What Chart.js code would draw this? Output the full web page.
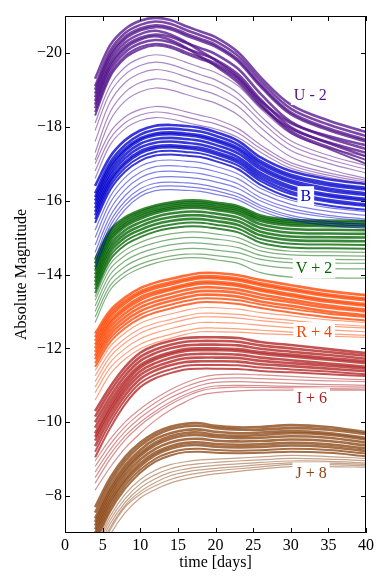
<!DOCTYPE html>
<html><head><meta charset="utf-8">
<script src="https://cdn.jsdelivr.net/npm/chart.js@4/dist/chart.umd.min.js"></script>
<style>html,body{margin:0;padding:0;background:#fff}#wrap{width:390px;height:586px}</style>
</head><body><div id="wrap"><canvas id="c" width="390" height="586"></canvas></div>
<script>
const days = [4,6,8,10,12,14,16,18,20,23,26,30,35,40];
const xTickValues = [0,5,10,15,20,25,30,35,40];
const yTickValues = [-20,-18,-16,-14,-12,-10,-8];
const bandNames = ['U - 2','B','V + 2','R + 4','I + 6','J + 8'];

const uCurves = [
[-19.30,-20.21,-20.65,-20.87,-20.95,-20.89,-20.73,-20.58,-20.43,-20.02,-19.34,-18.60,-18.17,-17.86],
[-19.10,-20.06,-20.54,-20.76,-20.85,-20.79,-20.63,-20.48,-20.32,-19.92,-19.24,-18.49,-18.06,-17.75],
[-19.00,-19.96,-20.44,-20.66,-20.75,-20.69,-20.53,-20.38,-20.22,-19.82,-19.14,-18.39,-17.96,-17.65],
[-18.90,-19.89,-20.38,-20.61,-20.70,-20.64,-20.48,-20.33,-20.17,-19.77,-19.09,-18.34,-17.91,-17.60],
[-18.80,-19.79,-20.28,-20.51,-20.60,-20.50,-20.30,-20.05,-19.80,-19.35,-18.70,-18.10,-17.75,-17.50],
[-18.70,-19.69,-20.18,-20.41,-20.50,-20.44,-20.28,-20.13,-19.97,-19.57,-18.89,-18.14,-17.71,-17.40],
[-18.60,-19.62,-20.12,-20.36,-20.45,-20.35,-20.15,-19.90,-19.65,-19.20,-18.55,-17.95,-17.58,-17.30],
[-18.50,-19.52,-20.02,-20.26,-20.35,-20.29,-20.13,-19.98,-19.82,-19.42,-18.74,-17.99,-17.56,-17.20],
[-18.40,-19.42,-19.92,-20.16,-20.25,-20.19,-20.03,-19.88,-19.72,-19.32,-18.64,-17.89,-17.46,-17.10],
[-18.30,-19.35,-19.86,-20.10,-20.20,-20.14,-19.98,-19.83,-19.67,-19.27,-18.59,-17.84,-17.41,-17.00],
[-18.10,-19.12,-19.62,-19.86,-19.95,-19.89,-19.75,-19.61,-19.47,-19.11,-18.49,-17.82,-17.43,-17.20],
[-17.90,-18.92,-19.42,-19.66,-19.75,-19.69,-19.55,-19.41,-19.27,-18.91,-18.29,-17.62,-17.23,-16.95],
[-17.60,-18.67,-19.20,-19.45,-19.55,-19.49,-19.36,-19.22,-19.09,-18.74,-18.15,-17.50,-17.12,-16.85],
[-17.30,-18.40,-18.94,-19.20,-19.30,-19.25,-19.12,-19.00,-18.87,-18.55,-17.98,-17.36,-17.01,-16.75],
[-17.10,-18.17,-18.70,-18.95,-19.05,-19.00,-18.88,-18.76,-18.64,-18.32,-17.78,-17.19,-16.85,-16.60],
[-17.00,-17.85,-18.27,-18.47,-18.55,-18.51,-18.41,-18.31,-18.21,-17.95,-17.51,-17.03,-16.75,-16.55],
[-16.80,-17.68,-18.11,-18.32,-18.40,-18.36,-18.27,-18.17,-18.08,-17.83,-17.41,-16.96,-16.69,-16.50],
[-16.60,-17.51,-17.95,-18.17,-18.25,-18.21,-18.12,-18.03,-17.94,-17.71,-17.31,-16.88,-16.63,-16.45]
];
const bCurves = [
[-16.40,-17.19,-17.64,-17.90,-18.03,-18.05,-18.02,-17.97,-17.86,-17.62,-17.17,-16.80,-16.58,-16.45],
[-16.20,-17.04,-17.51,-17.79,-17.92,-17.95,-17.92,-17.87,-17.76,-17.52,-17.07,-16.70,-16.48,-16.35],
[-16.10,-16.94,-17.41,-17.69,-17.82,-17.85,-17.82,-17.77,-17.66,-17.43,-17.00,-16.64,-16.42,-16.30],
[-16.00,-16.86,-17.35,-17.64,-17.77,-17.80,-17.77,-17.72,-17.61,-17.37,-16.92,-16.55,-16.33,-16.20],
[-15.90,-16.76,-17.25,-17.54,-17.67,-17.70,-17.67,-17.62,-17.51,-17.28,-16.85,-16.49,-16.27,-16.15],
[-15.80,-16.66,-17.15,-17.44,-17.57,-17.60,-17.57,-17.52,-17.41,-17.18,-16.75,-16.39,-16.17,-16.05],
[-15.70,-16.56,-17.05,-17.34,-17.47,-17.50,-17.47,-17.43,-17.32,-17.10,-16.68,-16.33,-16.12,-16.00],
[-15.60,-16.49,-16.99,-17.28,-17.42,-17.45,-17.42,-17.37,-17.26,-17.03,-16.60,-16.24,-16.02,-15.90],
[-15.50,-16.39,-16.89,-17.18,-17.32,-17.35,-17.32,-17.28,-17.17,-16.95,-16.53,-16.18,-15.97,-15.85],
[-15.40,-16.29,-16.79,-17.08,-17.22,-17.25,-17.22,-17.18,-17.07,-16.85,-16.43,-16.08,-15.87,-15.75],
[-15.20,-16.11,-16.63,-16.93,-17.07,-17.10,-17.07,-17.03,-16.93,-16.72,-16.33,-16.01,-15.81,-15.70],
[-15.00,-15.94,-16.46,-16.77,-16.92,-16.95,-16.92,-16.88,-16.79,-16.59,-16.21,-15.90,-15.71,-15.60],
[-14.80,-15.76,-16.30,-16.62,-16.77,-16.80,-16.77,-16.73,-16.64,-16.45,-16.08,-15.79,-15.60,-15.50],
[-14.60,-15.58,-16.14,-16.47,-16.62,-16.65,-16.63,-16.59,-16.51,-16.33,-15.99,-15.71,-15.55,-15.45],
[-14.45,-15.43,-15.99,-16.32,-16.47,-16.50,-16.48,-16.44,-16.36,-16.19,-15.87,-15.60,-15.44,-15.35],
[-14.30,-15.31,-15.88,-16.21,-16.37,-16.40,-16.38,-16.34,-16.27,-16.10,-15.80,-15.54,-15.39,-15.30],
[-14.15,-15.18,-15.76,-16.11,-16.27,-16.30,-16.28,-16.25,-16.17,-16.02,-15.72,-15.48,-15.33,-15.25]
];
const vCurves = [
[-14.40,-15.20,-15.55,-15.74,-15.87,-15.95,-16.00,-16.00,-15.95,-15.85,-15.60,-15.48,-15.46,-15.45],
[-14.30,-15.13,-15.49,-15.69,-15.82,-15.90,-15.95,-15.95,-15.90,-15.80,-15.55,-15.43,-15.41,-15.40],
[-14.20,-15.05,-15.42,-15.63,-15.76,-15.85,-15.90,-15.90,-15.85,-15.75,-15.50,-15.38,-15.36,-15.35],
[-14.10,-14.98,-15.36,-15.57,-15.71,-15.80,-15.85,-15.85,-15.80,-15.70,-15.45,-15.33,-15.31,-15.30],
[-14.00,-14.90,-15.30,-15.51,-15.66,-15.75,-15.80,-15.80,-15.75,-15.64,-15.36,-15.23,-15.21,-15.20],
[-13.90,-14.80,-15.20,-15.41,-15.56,-15.65,-15.70,-15.70,-15.65,-15.54,-15.26,-15.13,-15.11,-15.10],
[-13.80,-14.70,-15.10,-15.31,-15.46,-15.55,-15.60,-15.60,-15.55,-15.44,-15.16,-15.03,-15.01,-15.00],
[-13.70,-14.60,-15.00,-15.21,-15.36,-15.45,-15.50,-15.50,-15.45,-15.34,-15.06,-14.93,-14.91,-14.90],
[-13.60,-14.50,-14.90,-15.11,-15.26,-15.35,-15.40,-15.40,-15.35,-15.24,-14.96,-14.83,-14.81,-14.80],
[-13.50,-14.40,-14.80,-15.01,-15.16,-15.25,-15.30,-15.30,-15.25,-15.14,-14.86,-14.73,-14.71,-14.70],
[-13.40,-14.28,-14.66,-14.87,-15.01,-15.10,-15.15,-15.15,-15.10,-15.00,-14.75,-14.63,-14.61,-14.60],
[-13.30,-14.15,-14.52,-14.73,-14.86,-14.95,-15.00,-15.00,-14.96,-14.87,-14.64,-14.53,-14.51,-14.50],
[-13.15,-14.00,-14.37,-14.58,-14.71,-14.80,-14.85,-14.85,-14.81,-14.73,-14.52,-14.42,-14.41,-14.40],
[-13.00,-13.85,-14.22,-14.43,-14.56,-14.65,-14.70,-14.70,-14.66,-14.59,-14.41,-14.32,-14.31,-14.30],
[-12.85,-13.70,-14.07,-14.28,-14.41,-14.50,-14.55,-14.55,-14.51,-14.44,-14.26,-14.17,-14.16,-14.15],
[-12.70,-13.58,-13.96,-14.17,-14.31,-14.40,-14.45,-14.45,-14.40,-14.30,-14.05,-13.93,-13.91,-13.90]
];
const rCurves = [
[-12.40,-13.02,-13.38,-13.63,-13.78,-13.88,-13.97,-14.04,-14.04,-13.98,-13.85,-13.71,-13.55,-13.44],
[-12.30,-12.93,-13.29,-13.54,-13.69,-13.79,-13.88,-13.95,-13.95,-13.89,-13.76,-13.62,-13.46,-13.35],
[-12.20,-12.85,-13.22,-13.48,-13.63,-13.73,-13.83,-13.90,-13.90,-13.84,-13.71,-13.57,-13.41,-13.30],
[-12.10,-12.75,-13.12,-13.38,-13.53,-13.63,-13.73,-13.80,-13.80,-13.74,-13.61,-13.47,-13.31,-13.20],
[-12.00,-12.67,-13.05,-13.31,-13.47,-13.58,-13.68,-13.75,-13.75,-13.69,-13.56,-13.42,-13.26,-13.15],
[-11.90,-12.57,-12.95,-13.21,-13.37,-13.48,-13.58,-13.65,-13.65,-13.59,-13.46,-13.32,-13.16,-13.05],
[-11.80,-12.47,-12.85,-13.11,-13.27,-13.38,-13.48,-13.55,-13.55,-13.50,-13.37,-13.25,-13.10,-13.00],
[-11.70,-12.37,-12.75,-13.01,-13.17,-13.28,-13.38,-13.45,-13.45,-13.40,-13.27,-13.15,-13.00,-12.90],
[-11.60,-12.27,-12.65,-12.91,-13.07,-13.18,-13.28,-13.35,-13.35,-13.30,-13.19,-13.07,-12.94,-12.85],
[-11.50,-12.17,-12.55,-12.81,-12.97,-13.08,-13.18,-13.25,-13.25,-13.20,-13.09,-12.97,-12.84,-12.75],
[-11.40,-12.05,-12.42,-12.68,-12.83,-12.93,-13.03,-13.10,-13.10,-13.06,-12.97,-12.88,-12.77,-12.70],
[-11.25,-11.90,-12.27,-12.53,-12.68,-12.78,-12.88,-12.95,-12.95,-12.92,-12.84,-12.76,-12.66,-12.60],
[-11.10,-11.77,-12.15,-12.41,-12.57,-12.68,-12.78,-12.85,-12.85,-12.82,-12.75,-12.68,-12.60,-12.55],
[-10.95,-11.62,-12.00,-12.26,-12.42,-12.53,-12.63,-12.70,-12.70,-12.68,-12.62,-12.56,-12.50,-12.45],
[-10.80,-11.47,-11.85,-12.11,-12.27,-12.38,-12.48,-12.55,-12.55,-12.53,-12.49,-12.44,-12.39,-12.35],
[-10.60,-11.30,-11.71,-11.99,-12.15,-12.27,-12.38,-12.45,-12.45,-12.44,-12.40,-12.37,-12.33,-12.30]
];
const iCurves = [
[-10.30,-10.96,-11.50,-11.88,-12.08,-12.20,-12.28,-12.30,-12.30,-12.28,-12.17,-12.09,-11.98,-11.87],
[-10.15,-10.83,-11.38,-11.77,-11.97,-12.10,-12.18,-12.20,-12.20,-12.18,-12.08,-12.00,-11.90,-11.80],
[-10.00,-10.69,-11.26,-11.66,-11.87,-12.00,-12.08,-12.10,-12.10,-12.08,-11.99,-11.91,-11.82,-11.72],
[-9.85,-10.56,-11.14,-11.55,-11.76,-11.89,-11.98,-12.00,-12.00,-11.98,-11.90,-11.83,-11.74,-11.65],
[-9.70,-10.44,-11.05,-11.48,-11.70,-11.84,-11.93,-11.95,-11.95,-11.93,-11.85,-11.78,-11.69,-11.60],
[-9.60,-10.34,-10.95,-11.38,-11.60,-11.74,-11.83,-11.85,-11.85,-11.83,-11.75,-11.68,-11.59,-11.50],
[-9.50,-10.24,-10.85,-11.28,-11.50,-11.64,-11.73,-11.75,-11.75,-11.74,-11.66,-11.60,-11.53,-11.45],
[-9.35,-10.11,-10.73,-11.17,-11.40,-11.54,-11.63,-11.65,-11.65,-11.64,-11.57,-11.52,-11.45,-11.38],
[-9.20,-9.98,-10.61,-11.06,-11.29,-11.43,-11.53,-11.55,-11.55,-11.54,-11.48,-11.43,-11.37,-11.30],
[-9.05,-9.84,-10.49,-10.95,-11.19,-11.33,-11.43,-11.45,-11.45,-11.44,-11.39,-11.35,-11.30,-11.25],
[-8.95,-9.54,-10.01,-10.36,-10.64,-10.88,-11.07,-11.21,-11.28,-11.30,-11.28,-11.24,-11.19,-11.15],
[-8.80,-9.40,-9.88,-10.24,-10.53,-10.77,-10.96,-11.10,-11.18,-11.20,-11.18,-11.15,-11.12,-11.10],
[-8.65,-9.26,-9.75,-10.12,-10.41,-10.66,-10.85,-11.00,-11.08,-11.10,-11.08,-11.05,-11.02,-11.00],
[-8.50,-9.13,-9.63,-10.00,-10.30,-10.55,-10.75,-10.90,-10.98,-11.00,-10.99,-10.97,-10.96,-10.95],
[-8.35,-9.00,-9.52,-9.91,-10.22,-10.48,-10.69,-10.85,-10.92,-10.95,-10.94,-10.93,-10.91,-10.90],
[-8.16,-8.78,-9.30,-9.70,-10.05,-10.33,-10.55,-10.73,-10.80,-10.85,-10.87,-10.87,-10.87,-10.87]
];
const jCurves = [
[-7.70,-8.49,-9.06,-9.45,-9.72,-9.88,-9.96,-9.97,-9.90,-9.86,-9.87,-9.92,-9.87,-9.73],
[-7.55,-8.37,-8.96,-9.36,-9.64,-9.81,-9.89,-9.90,-9.84,-9.80,-9.80,-9.84,-9.80,-9.68],
[-7.40,-8.24,-8.84,-9.25,-9.54,-9.70,-9.79,-9.80,-9.74,-9.70,-9.72,-9.76,-9.71,-9.58],
[-7.30,-8.15,-8.75,-9.16,-9.45,-9.62,-9.71,-9.72,-9.66,-9.63,-9.65,-9.70,-9.66,-9.53],
[-7.20,-8.06,-8.67,-9.09,-9.38,-9.55,-9.64,-9.65,-9.60,-9.57,-9.58,-9.62,-9.58,-9.45],
[-7.10,-7.96,-8.57,-8.99,-9.28,-9.45,-9.54,-9.55,-9.50,-9.48,-9.49,-9.53,-9.49,-9.37],
[-7.00,-7.86,-8.47,-8.89,-9.18,-9.35,-9.44,-9.45,-9.41,-9.39,-9.40,-9.44,-9.40,-9.29],
[-6.90,-7.77,-8.39,-8.81,-9.11,-9.28,-9.37,-9.38,-9.34,-9.32,-9.33,-9.37,-9.33,-9.22],
[-6.80,-7.67,-8.29,-8.71,-9.01,-9.18,-9.27,-9.28,-9.25,-9.23,-9.24,-9.28,-9.25,-9.15],
[-6.70,-7.58,-8.20,-8.63,-8.93,-9.10,-9.19,-9.20,-9.17,-9.16,-9.17,-9.20,-9.17,-9.08],
[-6.60,-7.45,-8.05,-8.45,-8.70,-8.85,-8.93,-8.98,-9.00,-9.03,-9.06,-9.10,-9.07,-9.02],
[-6.50,-7.35,-7.93,-8.33,-8.58,-8.74,-8.83,-8.88,-8.91,-8.95,-8.98,-9.02,-9.00,-8.96],
[-6.40,-7.25,-7.83,-8.22,-8.47,-8.64,-8.73,-8.79,-8.83,-8.87,-8.91,-8.95,-8.94,-8.90],
[-6.30,-7.15,-7.75,-8.12,-8.37,-8.55,-8.65,-8.71,-8.75,-8.80,-8.85,-8.90,-8.89,-8.86],
[-6.20,-7.08,-7.70,-8.05,-8.28,-8.45,-8.56,-8.63,-8.68,-8.74,-8.79,-8.86,-8.85,-8.82],
[-6.10,-6.95,-7.55,-7.95,-8.18,-8.35,-8.46,-8.54,-8.60,-8.67,-8.73,-8.80,-8.80,-8.78]
];

const bandCurves = [uCurves, bCurves, vCurves, rCurves, iCurves, jCurves];
const bandRGB = ['85,20,140','0,0,205','0,100,0','255,69,0','178,34,34','139,69,19'];
const labelAnchors = [[32.6,-18.86],[32.0,-16.12],[33.1,-14.17],[33.1,-12.44],[32.8,-10.65],[32.7,-8.64]];
const denseCount = 10;

const datasets = [];
bandCurves.forEach((curves, b) => {
  curves.forEach((row, i) => {
    const dense = i < denseCount;
    datasets.push({
      data: row.map((m, k) => ({x: days[k], y: m})),
      borderColor: 'rgba(' + bandRGB[b] + (dense ? ',0.78)' : ',0.5)'),
      borderWidth: dense ? (i < 8 ? 2.6 : 2.0) : 1.2,
      pointRadius: 0,
      fill: false,
      tension: 0.35
    });
  });
});

const FONT = "'Liberation Serif', 'Times New Roman', serif";

const framePlugin = {
  id: 'frame',
  afterDatasetsDraw(chart) {
    const ctx = chart.ctx, a = chart.chartArea;
    const xs = chart.scales.x, ys = chart.scales.y;
    ctx.save();
    ctx.font = '16px ' + FONT;
    ctx.textAlign = 'center';
    ctx.textBaseline = 'middle';
    bandNames.forEach((name, b) => {
      const px = xs.getPixelForValue(labelAnchors[b][0]);
      const py = ys.getPixelForValue(labelAnchors[b][1]);
      const w = ctx.measureText(name).width;
      ctx.fillStyle = '#fff';
      ctx.fillRect(px - w / 2 - 3, py - 10, w + 6, 20);
      ctx.fillStyle = 'rgb(' + bandRGB[b] + ')';
      ctx.fillText(name, px, py + 1);
    });
    ctx.strokeStyle = '#000';
    ctx.lineWidth = 1;
    ctx.strokeRect(a.left + 0.5, a.top + 0.5, a.right - a.left - 1, a.bottom - a.top - 1);
    ctx.beginPath();
    xTickValues.forEach(v => {
      const p = Math.round(xs.getPixelForValue(v)) + 0.5;
      ctx.moveTo(p, a.bottom); ctx.lineTo(p, a.bottom - 5);
      ctx.moveTo(p, a.top); ctx.lineTo(p, a.top + 5);
    });
    yTickValues.forEach(v => {
      const p = Math.round(ys.getPixelForValue(v)) + 0.5;
      ctx.moveTo(a.left, p); ctx.lineTo(a.left + 5, p);
      ctx.moveTo(a.right, p); ctx.lineTo(a.right - 5, p);
    });
    ctx.stroke();
    ctx.restore();
  }
};

new Chart(document.getElementById('c'), {
  type: 'line',
  data: { datasets },
  options: {
    responsive: false,
    animation: false,
    events: [],
    layout: { padding: { top: 16, right: 24, left: 0, bottom: 0 } },
    plugins: { legend: { display: false }, tooltip: { enabled: false } },
    scales: {
      x: {
        type: 'linear', min: 0, max: 40,
        afterBuildTicks: s => { s.ticks = xTickValues.map(v => ({value: v})); },
        afterFit: s => { s.height = 53; },
        grid: { display: false, drawTicks: false },
        border: { display: false },
        ticks: { color: '#000', font: { family: FONT, size: 16 }, padding: 3, maxRotation: 0, autoSkip: false },
        title: { display: true, text: 'time [days]', color: '#000', font: { family: FONT, size: 16 }, padding: { top: 0, bottom: 14 } }
      },
      y: {
        type: 'linear', min: -21, max: -7, reverse: true,
        afterBuildTicks: s => { s.ticks = yTickValues.map(v => ({value: v})); },
        afterFit: s => { s.width = 65; },
        grid: { display: false, drawTicks: false },
        border: { display: false },
        ticks: { color: '#000', font: { family: FONT, size: 16 }, padding: 3,
          callback: v => (v < 0 ? '\u2212' + Math.abs(v) : String(v)) },
        title: { display: true, text: 'Absolute Magnitude', color: '#000', font: { family: FONT, size: 16 }, padding: { top: 12, bottom: 0 } }
      }
    }
  },
  plugins: [framePlugin]
});
</script></body></html>
